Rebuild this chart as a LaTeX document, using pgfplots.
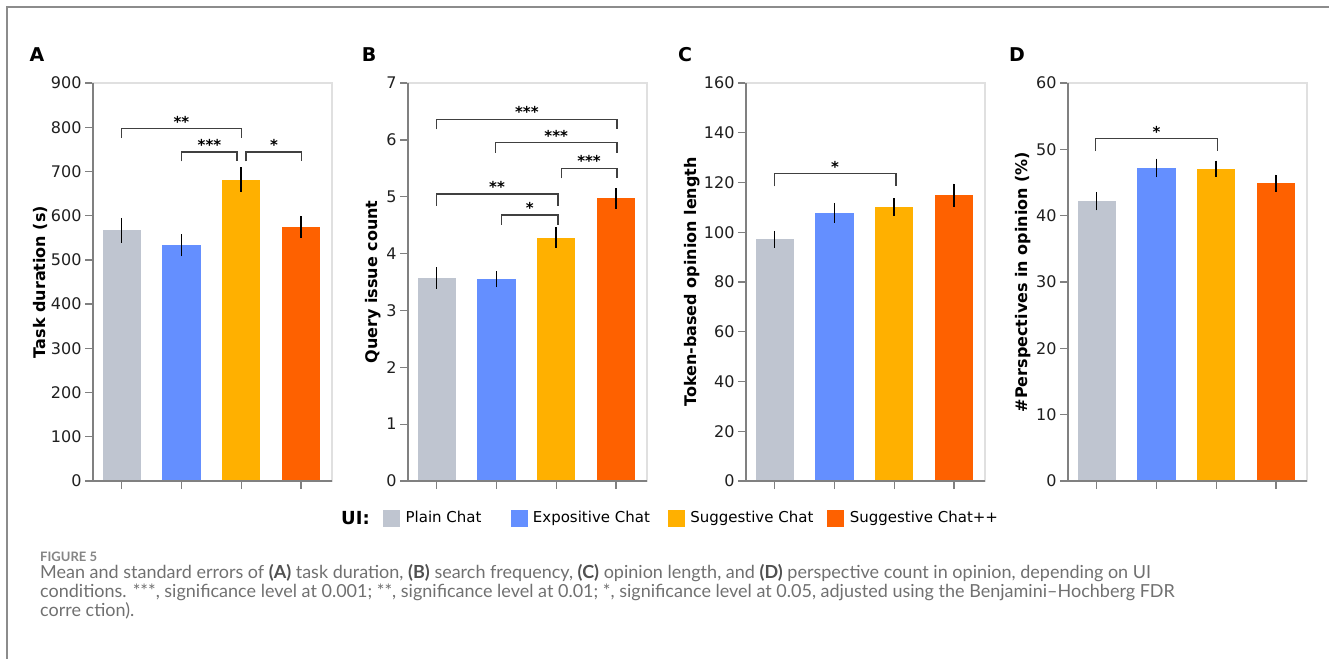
\documentclass[border=0pt]{standalone}
\usepackage{pgfplots}
\pgfplotsset{compat=1.18}
\usepackage{fontspec}
\setmainfont{DejaVu Sans}
\newfontfamily\capfont{Lato}
\definecolor{cgray}{HTML}{BFC5D0}
\definecolor{cblue}{HTML}{648FFF}
\definecolor{cyel}{HTML}{FFB000}
\definecolor{cred}{HTML}{FE6100}
\definecolor{axdark}{HTML}{808080}
\definecolor{axlight}{HTML}{E0E0E0}
\definecolor{brkc}{HTML}{404040}
\definecolor{captxt}{HTML}{707070}
\definecolor{capbold}{HTML}{505050}
\definecolor{framec}{HTML}{8C8C8C}

\pgfplotsset{
  panel/.style={
    width=239pt, height=398pt, scale only axis, anchor=south west,
    xmin=-0.48, xmax=3.52, ymin=0,
    xtick={0,1,2,3}, xticklabels={},
    xtick pos=bottom, ytick pos=left,
    tick align=outside, major tick length=8pt,
    every tick/.append style={axdark, line width=1.3pt},
    axis line style={axlight, line width=1.2pt},
    tick label style={font=\fontsize{16}{16}\selectfont, text=black!88},
    /pgf/number format/assume math mode=true,
    scaled y ticks=false,
    ylabel style={font=\bfseries\fontsize{16}{16}\selectfont, anchor=center},
    clip=false,
  },
  bstyle/.style={ybar, bar width=0.64, bar shift=0pt, fill=#1, draw=none,
    error bars/y dir=both, error bars/y explicit, error bars/error mark=none,
    error bars/error bar style={black, line width=1.6pt}},
}
\tikzset{
  brk/.style={draw=brkc, line width=1.3pt},
  star/.style={font=\bfseries\fontsize{15}{15}\selectfont, anchor=center, yshift=7pt, inner sep=0pt},
}
% \sig{x1}{x2}{y}{leg length}{mid x}{text}
\newcommand{\sig}[6]{%
  \draw[brk] ([yshift=-#4]axis cs:#1,#3) -- (axis cs:#1,#3) -- (axis cs:#2,#3) -- ([yshift=-#4]axis cs:#2,#3);
  \node[star] at (axis cs:#5,#3) {#6};}
\newcommand{\leftbottom}{\draw[axdark, line width=1.4pt] (rel axis cs:0,1) -- (rel axis cs:0,0) -- (rel axis cs:1,0);}

\begin{document}
\begin{tikzpicture}
\path[use as bounding box] (0pt,0pt) rectangle (1329pt,-659pt);
\draw[framec, line width=1.6pt] (1329pt,-7pt) -- (7pt,-7pt) -- (7pt,-659pt);

% Panel letters
\node[font=\bfseries\fontsize{19}{19}\selectfont] at (37pt,-55pt) {A};
\node[font=\bfseries\fontsize{19}{19}\selectfont] at (369pt,-55pt) {B};
\node[font=\bfseries\fontsize{19}{19}\selectfont] at (685pt,-55pt) {C};
\node[font=\bfseries\fontsize{19}{19}\selectfont] at (1017pt,-55pt) {D};

% ---------------- Panel A ----------------
\begin{axis}[panel, at={(93pt,-481pt)}, ymax=900, ytick={0,100,...,900},
  ylabel={Task duration (s)},
  ylabel style={at={([xshift=-53pt]rel axis cs:0,0.5)}},
  legend style={at={(1.2134,-0.093)}, anchor=west, draw=none, fill=none,
    inner xsep=0pt, inner ysep=0pt,
    font=\fontsize{15}{15}\selectfont, legend columns=4,
    /tikz/column 2/.style={column sep=27pt},
    /tikz/column 4/.style={column sep=16pt},
    /tikz/column 6/.style={column sep=12pt}},
  legend cell align=left]
\addplot[bstyle=cgray, forget plot] coordinates {(0,567) +- (0,28)};
\addplot[bstyle=cblue, forget plot] coordinates {(1,533) +- (0,24.5)};
\addplot[bstyle=cyel, forget plot] coordinates {(2,681) +- (0,28)};
\addplot[bstyle=cred, forget plot] coordinates {(3,575) +- (0,24.5)};
\addlegendimage{legend image code/.code={\fill[cgray] (0pt,-8pt) rectangle (16pt,8pt); \path (20pt,0pt);}}
\addlegendentry{Plain Chat}
\addlegendimage{legend image code/.code={\fill[cblue] (0pt,-8pt) rectangle (16pt,8pt); \path (20pt,0pt);}}
\addlegendentry{Expositive Chat}
\addlegendimage{legend image code/.code={\fill[cyel] (0pt,-8pt) rectangle (16pt,8pt); \path (20pt,0pt);}}
\addlegendentry{Suggestive Chat}
\addlegendimage{legend image code/.code={\fill[cred] (0pt,-8pt) rectangle (16pt,8pt); \path (20pt,0pt);}}
\addlegendentry{Suggestive Chat++}
\leftbottom
\sig{0}{2}{797}{9.5pt}{1}{**}
\sig{1}{1.93}{744}{9.5pt}{1.47}{***}
\sig{2.08}{3.01}{744}{9.5pt}{2.55}{*}
\end{axis}

% ---------------- Panel B ----------------
\begin{axis}[panel, at={(408pt,-481pt)}, ymax=7, ytick={0,1,...,7},
  ylabel={Query issue count},
  ylabel style={at={([xshift=-35pt]rel axis cs:0,0.5)}}]
\addplot[bstyle=cgray] coordinates {(0,3.57) +- (0,0.19)};
\addplot[bstyle=cblue] coordinates {(1,3.55) +- (0,0.14)};
\addplot[bstyle=cyel] coordinates {(2,4.28) +- (0,0.18)};
\addplot[bstyle=cred] coordinates {(3,4.97) +- (0,0.18)};
\leftbottom
\sig{0}{3.02}{6.36}{10pt}{1.51}{***}
\sig{0.99}{3.02}{5.95}{10pt}{2}{***}
\sig{2.09}{3.02}{5.50}{10pt}{2.55}{***}
\sig{0}{2.03}{5.05}{12pt}{1.01}{**}
\sig{1.09}{2.03}{4.68}{10pt}{1.56}{*}
\end{axis}

% ---------------- Panel C ----------------
\begin{axis}[panel, at={(746pt,-481pt)}, ymax=160, ytick={0,20,...,160},
  ylabel={Token-based opinion length},
  ylabel style={at={([xshift=-54pt]rel axis cs:0,0.5)}}]
\addplot[bstyle=cgray] coordinates {(0,97.2) +- (0,3.4)};
\addplot[bstyle=cblue] coordinates {(1,107.8) +- (0,4)};
\addplot[bstyle=cyel] coordinates {(2,110.2) +- (0,3.5)};
\addplot[bstyle=cred] coordinates {(3,114.9) +- (0,4.7)};
\leftbottom
\sig{0}{2.03}{123.5}{12.5pt}{1.01}{*}
\end{axis}

% ---------------- Panel D ----------------
\begin{axis}[panel, at={(1068pt,-481pt)}, ymax=60, ytick={0,10,...,60},
  ylabel={\#Perspectives in opinion (\%)},
  ylabel style={at={([xshift=-45pt]rel axis cs:0,0.5)}}]
\addplot[bstyle=cgray] coordinates {(0,42.2) +- (0,1.4)};
\addplot[bstyle=cblue] coordinates {(1,47.2) +- (0,1.4)};
\addplot[bstyle=cyel] coordinates {(2,47.1) +- (0,1.2)};
\addplot[bstyle=cred] coordinates {(3,44.9) +- (0,1.3)};
\leftbottom
\sig{-0.02}{2.02}{51.6}{12.5pt}{1}{*}
\end{axis}

% Legend title
\node[anchor=west, font=\bfseries\fontsize{18}{18}\selectfont, inner sep=0pt] at (341pt,-518pt) {UI:};

% Caption
\node[anchor=base west, inner sep=0pt, text=captxt!85!white, font=\capfont\bfseries\fontsize{13}{13}\selectfont] at (40pt,-561pt) {FIGURE 5};
\node[anchor=base west, inner sep=0pt, text=captxt, font=\capfont\fontsize{18}{18}\selectfont] at (40pt,-578pt)
  {Mean and standard errors of \textcolor{capbold}{\bfseries(A)} task duration, \textcolor{capbold}{\bfseries(B)} search frequency, \textcolor{capbold}{\bfseries(C)} opinion length, and \textcolor{capbold}{\bfseries(D)} perspective count in opinion, depending on UI};
\node[anchor=base west, inner sep=0pt, text=captxt, font=\capfont\fontsize{18}{18}\selectfont] at (40pt,-597pt)
  {conditions. ***, significance level at 0.001; **, significance level at 0.01; *, significance level at 0.05, adjusted using the Benjamini–Hochberg FDR};
\node[anchor=base west, inner sep=0pt, text=captxt, font=\capfont\fontsize{18}{18}\selectfont] at (40pt,-616pt)
  {corre ction).};
\end{tikzpicture}
\end{document}
